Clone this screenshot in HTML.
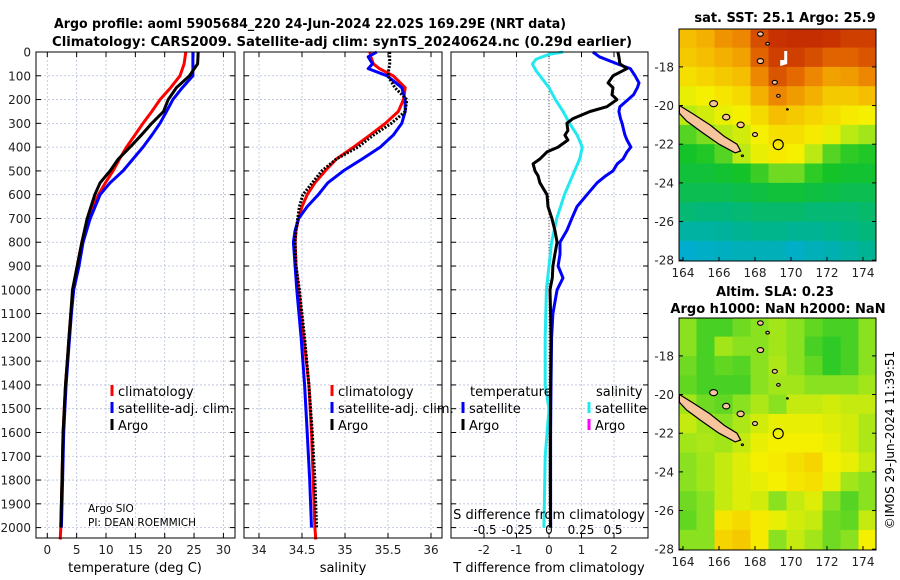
<!DOCTYPE html>
<html><head><meta charset="utf-8"><style>
html,body{margin:0;padding:0;background:#fff}
svg{display:block;font-family:"DejaVu Sans","Liberation Sans",sans-serif}
</style></head><body>
<svg id="fig" width="900" height="580" viewBox="0 0 900 580" xmlns="http://www.w3.org/2000/svg">
<text x="310" y="28" font-size="13" font-weight="bold" text-anchor="middle" textLength="512" lengthAdjust="spacingAndGlyphs">Argo profile: aoml 5905684_220 24-Jun-2024 22.02S 169.29E (NRT data)</text>
<text x="342" y="46" font-size="13" font-weight="bold" text-anchor="middle" textLength="580" lengthAdjust="spacingAndGlyphs">Climatology: CARS2009. Satellite-adj clim: synTS_20240624.nc (0.29d earlier)</text>
<text x="785" y="22" font-size="13" font-weight="bold" text-anchor="middle">sat. SST: 25.1 Argo: 25.9</text>
<text x="775" y="296" font-size="13" font-weight="bold" text-anchor="middle">Altim. SLA: 0.23</text>
<text x="778" y="313" font-size="13" font-weight="bold" text-anchor="middle">Argo h1000: NaN h2000: NaN</text>
<text transform="translate(894,440) rotate(-90)" font-size="12" text-anchor="middle">©IMOS 29-Jun-2024 11:39:51</text>
<g id="layer"></g>
</svg>
<script>
// ---- profile data (depth in dbar) ----
const tDepth = [0,50,100,150,200,250,300,350,400,450,500,550,600,700,800,900,1000,1100,1200,1300,1400,1500,1600,1800,2000];
const tClim  = [23.6,23.3,22.6,21.0,19.2,17.8,16.3,14.9,13.5,12.3,11.2,9.9,8.7,6.9,5.9,5.1,4.4,4.0,3.7,3.4,3.1,2.9,2.7,2.5,2.3];
const tSat   = [24.8,24.8,24.8,23.0,21.4,20.3,19.2,17.8,16.3,14.6,12.9,10.7,9.0,7.3,6.1,5.4,4.5,4.1,3.8,3.5,3.2,3.0,2.8,2.6,2.4];
const tArgo  = [25.7,25.6,24.2,22.0,20.6,19.8,17.8,16.0,14.1,12.1,10.7,9.0,8.1,6.8,5.9,5.1,4.3,4.0,3.7,3.4,3.1,2.9,2.7,2.5,2.3];
const sDepth = [0,20,50,70,100,150,200,250,300,350,400,450,500,550,600,650,700,750,800,900,1000,1200,1400,1600,1800,2000];
const sClim  = [35.29,35.30,35.33,35.40,35.56,35.70,35.68,35.62,35.47,35.29,35.10,34.90,34.77,34.65,34.56,34.50,34.46,34.43,34.42,34.43,34.46,34.52,34.58,34.61,34.63,34.65];
const sSat   = [35.37,35.27,35.32,35.27,35.49,35.66,35.70,35.70,35.66,35.56,35.41,35.20,34.98,34.80,34.69,34.56,34.46,34.42,34.40,34.42,34.44,34.49,34.53,34.56,34.59,34.61];
const sArgo  = [35.52,35.52,35.52,35.51,35.50,35.58,35.72,35.70,35.54,35.33,35.15,34.90,34.73,34.62,34.51,34.47,34.45,34.43,34.42,34.43,34.47,34.53,34.58,34.62,34.65,34.67];
const dDepth = [0,20,50,70,100,130,150,180,200,230,250,280,300,330,350,370,400,420,450,470,500,520,550,600,650,700,750,800,850,900,950,1000,1100,1200,1400,1600,1800,2000];
const dTSat  = [1.35,1.55,2.10,2.50,2.65,2.77,2.72,2.60,2.43,2.18,2.15,2.20,2.25,2.30,2.34,2.40,2.52,2.40,2.28,2.10,1.97,1.75,1.48,1.17,0.86,0.70,0.55,0.34,0.34,0.28,0.43,0.25,0.12,0.08,0.06,0.05,0.05,0.05];
const dTArgo = [2.12,2.15,2.18,2.40,1.97,1.82,1.97,1.94,2.09,1.78,1.26,0.74,0.55,0.58,0.49,0.58,0.28,-0.06,-0.28,-0.49,-0.43,-0.34,-0.28,-0.06,-0.03,0.09,0.18,0.25,0.18,0.12,0.10,0.03,0.05,0.06,0.05,0.04,0.04,0.05];
const sdDepth = [0,10,30,50,80,100,150,200,250,300,350,400,450,500,550,600,700,800,900,1000,1200,1400,1500,1700,2000];
const dSSat  = [0.11,0.0,-0.10,-0.13,-0.10,-0.07,0.0,0.05,0.11,0.16,0.22,0.26,0.24,0.20,0.16,0.12,0.06,0.02,0.0,-0.02,-0.03,-0.03,0.0,-0.03,-0.04];
// tick labels
const depthTicks = [0,100,200,300,400,500,600,700,800,900,1000,1100,1200,1300,1400,1500,1600,1700,1800,1900,2000];
const tTicks = [0,5,10,15,20,25,30];
const sTicks = [34,34.5,35,35.5,36];
const dtTicks = [-2,-1,0,1,2];
const dsTicks = [-0.5,-0.25,0,0.25,0.5];
const dsTickLabels = ["-0.5","-0.25","0","0.25","0.5"];
// ---- map data ----
const lonTicks = [164,166,168,170,172,174];
const latTicks = [-18,-20,-22,-24,-26,-28];
const gridLon0 = 163.75;
const gridLat0 = -16;
const sstGrid = [
[0.72,0.74,0.78,0.80,0.88,0.92,0.93,0.93,0.92,0.90,0.90],
[0.70,0.72,0.74,0.76,0.85,0.90,0.90,0.88,0.85,0.85,0.87],
[0.66,0.68,0.70,0.72,0.80,0.87,0.84,0.80,0.76,0.77,0.80],
[0.62,0.63,0.65,0.67,0.74,0.80,0.77,0.74,0.70,0.70,0.72],
[0.58,0.60,0.62,0.63,0.67,0.72,0.70,0.68,0.66,0.64,0.63],
[0.50,0.53,0.58,0.60,0.63,0.66,0.66,0.64,0.62,0.58,0.56],
[0.45,0.46,0.50,0.58,0.62,0.64,0.63,0.58,0.50,0.47,0.46],
[0.43,0.43,0.44,0.45,0.48,0.52,0.52,0.47,0.45,0.44,0.44],
[0.40,0.40,0.40,0.41,0.42,0.43,0.43,0.42,0.41,0.40,0.40],
[0.36,0.35,0.35,0.36,0.37,0.37,0.37,0.36,0.36,0.36,0.37],
[0.30,0.30,0.31,0.32,0.33,0.33,0.32,0.32,0.33,0.34,0.35],
[0.24,0.25,0.26,0.27,0.27,0.27,0.25,0.27,0.28,0.30,0.32]];
const slaGrid = [
[0.54,0.49,0.49,0.52,0.54,0.56,0.54,0.51,0.49,0.49,0.54],
[0.54,0.49,0.56,0.54,0.54,0.56,0.54,0.49,0.47,0.49,0.54],
[0.52,0.49,0.51,0.50,0.54,0.57,0.54,0.51,0.47,0.49,0.54],
[0.51,0.49,0.49,0.49,0.54,0.56,0.56,0.54,0.54,0.54,0.56],
[0.56,0.52,0.51,0.54,0.57,0.54,0.59,0.59,0.60,0.59,0.59],
[0.59,0.56,0.54,0.57,0.60,0.62,0.62,0.62,0.61,0.60,0.57],
[0.56,0.57,0.56,0.59,0.62,0.63,0.63,0.63,0.62,0.60,0.57],
[0.54,0.56,0.59,0.61,0.63,0.64,0.66,0.68,0.63,0.62,0.59],
[0.54,0.56,0.59,0.61,0.62,0.63,0.65,0.66,0.62,0.56,0.54],
[0.52,0.54,0.59,0.61,0.60,0.54,0.59,0.61,0.54,0.50,0.54],
[0.51,0.54,0.65,0.67,0.64,0.62,0.60,0.59,0.52,0.51,0.59],
[0.54,0.54,0.68,0.70,0.64,0.54,0.59,0.56,0.52,0.54,0.63]];
const argoLon = 169.29, argoLat = -22.02;
const ncLon = [163.8,164.5,165.5,166.3,167.0,167.2,166.9,166.0,165.0,164.2,163.8];
const ncLat = [-20.0,-20.4,-21.0,-21.6,-22.0,-22.35,-22.45,-22.0,-21.35,-20.8,-20.4];
const isleLon = [165.7,166.4,167.2,168.0,167.3,168.3,168.7,168.3,169.1,169.3,169.8];
const isleLat = [-19.9,-20.6,-21.0,-21.5,-22.6,-16.3,-16.8,-17.7,-18.8,-19.5,-20.2];
const isleR   = [0.22,0.2,0.2,0.14,0.06,0.16,0.1,0.18,0.14,0.1,0.05];

const NS='http://www.w3.org/2000/svg';
const layer=document.getElementById('layer');
function el(tag,attrs,parent){const e=document.createElementNS(NS,tag);for(const k in attrs)e.setAttribute(k,attrs[k]);(parent||layer).appendChild(e);return e;}
function txt(s,x,y,attrs,parent){const e=el('text',Object.assign({x:x,y:y,'font-size':12},attrs||{}),parent);e.textContent=s;return e;}

const TOP=52,BOT=538;
const yD=d=>TOP+d*0.2378;
const panels=[
 {name:'temperature-panel',x0:36,x1:235,fx:v=>47.3+v*5.87},
 {name:'salinity-panel',x0:244,x1:442,fx:v=>259+(v-34)*86},
 {name:'difference-panel',x0:451,x1:648,fx:v=>549+v*32.5}
];
const fxS=v=>549+v*128;

panels.forEach((p,i)=>{
 const g=el('g',{});
 
 
 el('rect',{x:p.x0,y:TOP,width:p.x1-p.x0,height:BOT-TOP,fill:'#fff'},g);
 depthTicks.forEach(d=>{
  const l=el('line',{x1:p.x0,x2:p.x1,y1:yD(d),y2:yD(d),stroke:'#b8c0dc','stroke-width':0.8,'stroke-dasharray':'2,2'},g);
  
  
  el('line',{x1:p.x0,x2:p.x0+5,y1:yD(d),y2:yD(d),stroke:'#000'},g);
  el('line',{x1:p.x1-5,x2:p.x1,y1:yD(d),y2:yD(d),stroke:'#000'},g);
 });
 const xt = i===0?tTicks:(i===1?sTicks:dtTicks);
 xt.forEach(v=>{
  const x=p.fx(v);
  const l=el('line',{x1:x,x2:x,y1:TOP,y2:BOT,stroke:'#b8c0dc','stroke-width':0.8,'stroke-dasharray':'2,2'},g);
  
  
  el('line',{x1:x,x2:x,y1:BOT-5,y2:BOT,stroke:'#000'},g);
  el('line',{x1:x,x2:x,y1:TOP,y2:TOP+5,stroke:'#000'},g);
  const t=txt(String(v),x,554,{'text-anchor':'middle',fill:'#222'},g);
  
  
 });
});
depthTicks.forEach(d=>{
 const t=txt(String(d),31,yD(d)+4.5,{'text-anchor':'end',fill:'#222'});
 
 
});
const zl=el('line',{x1:549,x2:549,y1:TOP,y2:BOT,stroke:'#555','stroke-width':1,'stroke-dasharray':'1,2'});



function series(xs,ds,fx,color,name,dash){
 const pts=xs.map((v,i)=>fx(v).toFixed(1)+','+yD(ds[i]).toFixed(1)).join(' ');
 const a={points:pts,fill:'none',stroke:color,'stroke-width':3,'stroke-linejoin':'round'};
 if(dash)a['stroke-dasharray']=dash;
 const pl=el('polyline',a);
 
 
}
const P=panels;
series(tClim.concat([2.2]),tDepth.concat([2050]),P[0].fx,'#ff0000','temp-climatology-line');
series(tSat,tDepth,P[0].fx,'#0000ff','temp-satellite-line');
series(tArgo,tDepth,P[0].fx,'#000000','temp-argo-line');
series(sClim.concat([34.66]),sDepth.concat([2050]),P[1].fx,'#ff0000','sal-climatology-line');
series(sSat,sDepth,P[1].fx,'#0000ff','sal-satellite-line');
series(sArgo,sDepth,P[1].fx,'#000000','sal-argo-line','2,1.5');
series(dSSat,sdDepth,fxS,'#22e8f0','sdiff-satellite-line');
series(dTSat,dDepth,P[2].fx,'#0000ff','tdiff-satellite-line');
series(dTArgo,dDepth,P[2].fx,'#000000','tdiff-argo-line');

panels.forEach(p=>{el('rect',{x:p.x0,y:TOP,width:p.x1-p.x0,height:BOT-TOP,fill:'none',stroke:'#000','stroke-width':1});});

function legendEntry(x,y,color,label,name){
 const g=el('g',{});
 
 
 el('rect',{x:x-1.5,y:y-6,width:3,height:11,fill:color},g);
 txt(label,x+6,y+5,{'font-size':13},g);
}
legendEntry(112,391,'#ff0000','climatology','legend-climatology');
legendEntry(112,408,'#0000ff','satellite-adj. clim.','legend-satellite-adj');
legendEntry(112,425,'#000000','Argo','legend-argo');
legendEntry(332,391,'#ff0000','climatology','legend-climatology-sal');
legendEntry(332,408,'#0000ff','satellite-adj. clim.','legend-satellite-adj-sal');
legendEntry(332,425,'#000000','Argo','legend-argo-sal');
const lt=txt('temperature',470,396,{'font-size':13});


const ls=txt('salinity',596,396,{'font-size':13});


legendEntry(463,408,'#0000ff','satellite','legend-t-satellite');
legendEntry(463,425,'#000000','Argo','legend-t-argo');
legendEntry(589,408,'#22e8f0','satellite','legend-s-satellite');
legendEntry(589,425,'#ff00ff','Argo','legend-s-argo');

const a1=txt('Argo SIO',88,512,{'font-size':10.5});


const a2=txt('PI: DEAN ROEMMICH',88,526,{'font-size':10.5});



const sd=txt('S difference from climatology',549,519,{'font-size':13,'text-anchor':'middle'});


dsTicks.forEach((v,i)=>{
 const t=txt(dsTickLabels[i],fxS(v),534,{'text-anchor':'middle','font-size':12});
 
 
});
[['temperature (deg C)',135,'x-axis-title-temperature'],['salinity',343,'x-axis-title-salinity'],['T difference from climatology',549,'x-axis-title-tdiff']].forEach(a=>{
 const t=txt(a[0],a[1],572,{'text-anchor':'middle','font-size':13});
 
 
});

// ---- maps ----
const stops=[[0,[30,90,255]],[0.2,[0,170,235]],[0.33,[0,180,140]],[0.45,[20,195,40]],[0.55,[150,228,30]],[0.63,[245,240,0]],[0.72,[245,190,0]],[0.82,[235,120,0]],[0.92,[200,50,0]],[1,[170,20,0]]];
function cmap(v){
 for(let i=1;i<stops.length;i++){if(v<=stops[i][0]){const a=stops[i-1],b=stops[i];const t=(v-a[0])/(b[0]-a[0]);return 'rgb('+a[1].map((c,k)=>Math.round(c+(b[1][k]-c)*t)).join(',')+')';}}
 return 'rgb(170,20,0)';
}
function drawMap(name,top,grid){
 const X0=679,X1=876,B=top+232;
 const fx=lon=>683+(lon-164)*18;
 const fy=lat=>top+(-16.04-lat)*19.33;
 const g=el('g',{});
 
 
 const clip=el('clipPath',{id:name+'-clip'},g);
 el('rect',{x:X0,y:top,width:X1-X0,height:B-top},clip);
 const cg=el('g',{'clip-path':'url(#'+name+'-clip)'},g);
 grid.forEach((row,r)=>row.forEach((v,c)=>{
  const lon=gridLon0+c, lat=gridLat0-r;
  const rc=el('rect',{x:fx(lon).toFixed(1),y:fy(lat).toFixed(1),width:18.6,height:20,fill:cmap(v)},cg);
  
  
 }));
 const nc=el('polygon',{points:ncLon.map((l,i)=>fx(l).toFixed(1)+','+fy(ncLat[i]).toFixed(1)).join(' '),fill:'#f7c49c',stroke:'#000','stroke-width':1.2},cg);
 
 
 isleLon.forEach((l,i)=>{
  const e=el('ellipse',{cx:fx(l),cy:fy(isleLat[i]),rx:isleR[i]*18,ry:isleR[i]*14,fill:'#f7c49c',stroke:'#000','stroke-width':1.1},cg);
  
  
 });
 const ci=el('circle',{cx:fx(argoLon),cy:fy(argoLat),r:5,fill:'none',stroke:'#000','stroke-width':1.2},cg);
 
 
 el('rect',{x:X0,y:top,width:X1-X0,height:B-top,fill:'none',stroke:'#000'},g);
 lonTicks.forEach(l=>{
  el('line',{x1:fx(l),x2:fx(l),y1:B-4,y2:B,stroke:'#000'},g);
  const t=txt(String(l),fx(l),B+16,{'text-anchor':'middle','font-size':12,fill:'#222'},g);
  
  
 });
 latTicks.forEach(l=>{
  el('line',{x1:X0,x2:X0+4,y1:fy(l),y2:fy(l),stroke:'#000'},g);
  el('line',{x1:X1-4,x2:X1,y1:fy(l),y2:fy(l),stroke:'#000'},g);
  const t=txt(String(l),X0-5,fy(l)+4.5,{'text-anchor':'end','font-size':12,fill:'#222'},g);
  
  
 });
}
drawMap('sst-map',29,sstGrid);
const fxm=lon=>683+(lon-164)*18;
const wm=el('path',{d:'M'+(fxm(169.4))+' 66 v-6 h4 v-9 h3 v13 z',fill:'#fff'});


drawMap('sla-map',318,slaGrid);
</script>
</body></html>
